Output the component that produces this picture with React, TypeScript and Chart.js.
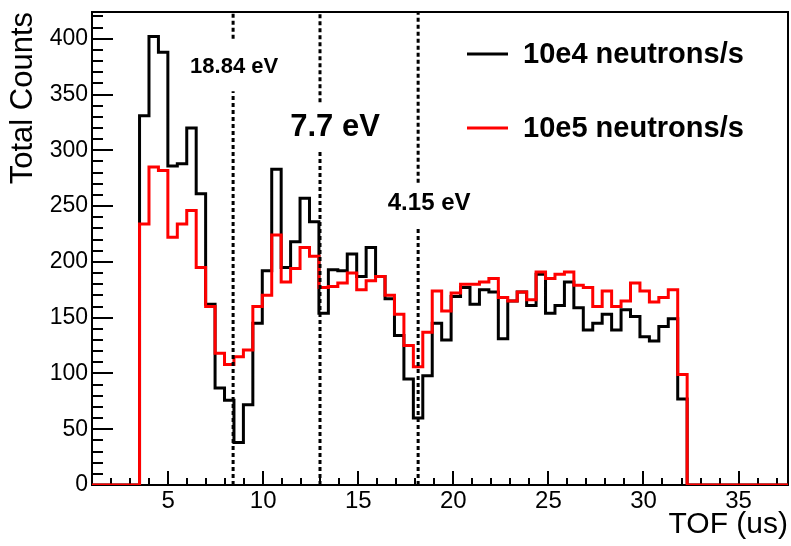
import React, { useEffect, useRef } from "react";
import { Chart, registerables } from "chart.js";

Chart.register(...registerables);

// ---- data ----
const binStart = 3.5; // us, left edge of first filled bin
const binWidth = 0.4965; // us
const xMin = 1;
const xMax = 37.6;
const yMax = 424;

const counts1e4 = [
  331, 402, 388, 286, 288, 320, 261, 162, 87, 76, 38, 72, 145, 192, 283, 195,
  218, 257, 236, 154, 193, 192, 207, 187, 213, 187, 167, 134, 95, 60, 98, 145,
  130, 169, 177, 162, 175, 173, 131, 165, 173, 161, 189, 154, 161, 182, 159,
  139, 145, 153, 139, 157, 151, 133, 129, 142, 149, 77,
];
const counts1e5 = [
  234, 285, 282, 222, 234, 246, 195, 160, 118, 108, 115, 121, 160, 170, 224,
  182, 194, 213, 205, 177, 178, 181, 190, 175, 183, 187, 170, 153, 125, 106,
  137, 174, 156, 172, 180, 180, 182, 185, 168, 165, 173, 166, 191, 185, 189,
  191, 179, 177, 160, 174, 160, 165, 181, 174, 164, 168, 175, 99,
];
const seriesLabels = ["10e4 neutrons/s", "10e5 neutrons/s"];
const seriesColors = ["#000000", "#ff0000"];

const xTickValues = [5, 10, 15, 20, 25, 30, 35];
const yTickValues = [0, 50, 100, 150, 200, 250, 300, 350, 400];
const xMinorStep = 1;
const yMinorStep = 10;

const resonanceTOF = [8.42, 12.99, 18.15];
const resonanceLabels = ["18.84 eV", "7.7 eV", "4.15 eV"];
// [lower end of upper segment, upper end of lower segment] in counts
const resonanceGapTop = [400, 343, 271];
const resonanceGapBottom = [353, 301, 230];

const FONT = "'Liberation Sans', Arial, Helvetica, sans-serif";

function histPoints(counts: number[]) {
  const pts: { x: number; y: number | null }[] = [{ x: xMin, y: 0 }];
  counts.forEach((c, i) => pts.push({ x: binStart + i * binWidth, y: c }));
  pts.push({ x: binStart + counts.length * binWidth, y: 0 });
  pts.push({ x: xMax, y: 0 });
  return pts;
}

const framePlugin = {
  id: "rootFrame",
  beforeDatasetsDraw(chart: any) {
    const { ctx, chartArea: a, scales } = chart;
    const xs = scales.x;
    const ys = scales.y;
    ctx.save();
    ctx.strokeStyle = "#000";
    ctx.lineWidth = 2;
    ctx.strokeRect(a.left, a.top, a.right - a.left, a.bottom - a.top);
    ctx.lineWidth = 2;
    for (let v = 0; v <= yMax + 1e-9; v += yMinorStep) {
      const py = Math.round(ys.getPixelForValue(v));
      const major = yTickValues.includes(v);
      const len = major ? 21 : 11;
      ctx.beginPath();
      ctx.moveTo(a.left, py);
      ctx.lineTo(a.left + len, py);
      ctx.stroke();
    }
    for (let v = Math.ceil(xMin); v <= xMax + 1e-9; v += xMinorStep) {
      const px = Math.round(xs.getPixelForValue(v));
      const major = xTickValues.includes(v);
      const len = major ? 14 : 7;
      ctx.beginPath();
      ctx.moveTo(px, a.bottom);
      ctx.lineTo(px, a.bottom - len);
      ctx.stroke();
    }
    ctx.restore();
  },
  afterDraw(chart: any) {
    const { ctx, scales } = chart;
    const xs = scales.x;
    ctx.save();
    ctx.fillStyle = "#000";
    ctx.textAlign = "center";
    ctx.textBaseline = "alphabetic";
    // resonance labels
    const labelSpec = [
      { dx: 1, by: 73, size: 22 },
      { dx: 15, by: 136, size: 31 },
      { dx: 11, by: 210, size: 24 },
    ];
    resonanceLabels.forEach((t, i) => {
      const s = labelSpec[i];
      ctx.font = `bold ${s.size}px ${FONT}`;
      ctx.fillText(t, xs.getPixelForValue(resonanceTOF[i]) + s.dx, s.by);
    });
    // legend
    const legY = [54, 128];
    ctx.textAlign = "left";
    ctx.textBaseline = "middle";
    ctx.font = `bold 29px ${FONT}`;
    seriesLabels.forEach((t, i) => {
      ctx.strokeStyle = seriesColors[i];
      ctx.lineWidth = 3;
      ctx.beginPath();
      ctx.moveTo(467, legY[i]);
      ctx.lineTo(508, legY[i]);
      ctx.stroke();
      ctx.fillText(t, 523, legY[i] + 1);
    });
    ctx.restore();
  },
};

export default function App() {
  const ref = useRef<HTMLCanvasElement | null>(null);
  useEffect(() => {
    document.body.style.margin = "0";
    const canvas = ref.current;
    if (!canvas) return;
    const datasets: any[] = [];
    resonanceTOF.forEach((t, i) => {
      datasets.push({
        label: resonanceLabels[i],
        data: [
          { x: t, y: 0 },
          { x: t, y: resonanceGapBottom[i] },
          { x: t, y: null },
          { x: t, y: resonanceGapTop[i] },
          { x: t, y: yMax },
        ],
        borderColor: "#000",
        borderWidth: 3,
        borderDash: [4, 3],
        pointRadius: 0,
        spanGaps: false,
        order: 0,
      });
    });
    [counts1e5, counts1e4].forEach((c, k) => {
      const idx = k === 0 ? 1 : 0;
      datasets.push({
        label: seriesLabels[idx],
        data: histPoints(c),
        borderColor: seriesColors[idx],
        borderWidth: 3,
        stepped: "before",
        pointRadius: 0,
        fill: false,
        borderJoinStyle: "miter",
        borderCapStyle: "butt",
        order: k + 1,
      });
    });
    const chart = new Chart(canvas, {
      type: "line",
      data: { datasets },
      options: {
        animation: false,
        responsive: false,
        maintainAspectRatio: false,
        devicePixelRatio: 1,
        layout: { padding: { left: 0, right: 3, top: 12, bottom: 0 } },
        plugins: { legend: { display: false }, tooltip: { enabled: false } },
        scales: {
          x: {
            type: "linear",
            min: xMin,
            max: xMax,
            grid: { display: false, drawTicks: false },
            border: { display: false },
            afterBuildTicks: (s: any) => {
              s.ticks = xTickValues.map((v) => ({ value: v }));
            },
            afterFit: (s: any) => {
              s.height = 61;
              s.paddingLeft = 0;
              s.paddingRight = 0;
            },
            ticks: {
              autoSkip: false,
              maxRotation: 0,
              padding: 2,
              color: "#000",
              font: { family: FONT, size: 24 },
            },
            title: {
              display: true,
              text: "TOF (us)",
              align: "end",
              color: "#000",
              font: { family: FONT, size: 30 },
              padding: { top: 0, bottom: 3 },
            },
          },
          y: {
            type: "linear",
            min: 0,
            max: yMax,
            grid: { display: false, drawTicks: false },
            border: { display: false },
            afterBuildTicks: (s: any) => {
              s.ticks = yTickValues.map((v) => ({ value: v }));
            },
            afterFit: (s: any) => {
              s.width = 92;
              s.paddingTop = 0;
              s.paddingBottom = 0;
            },
            ticks: {
              autoSkip: false,
              padding: 4,
              color: "#000",
              font: { family: FONT, size: 23 },
            },
            title: {
              display: true,
              text: "Total Counts",
              align: "end",
              color: "#000",
              font: { family: FONT, size: 31 },
              padding: { top: 5, bottom: 0 },
            },
          },
        },
      },
      plugins: [framePlugin],
    });
    return () => chart.destroy();
  }, []);
  return (
    <canvas
      ref={ref}
      width={791}
      height={546}
      style={{ display: "block", width: 791, height: 546 }}
    />
  );
}
